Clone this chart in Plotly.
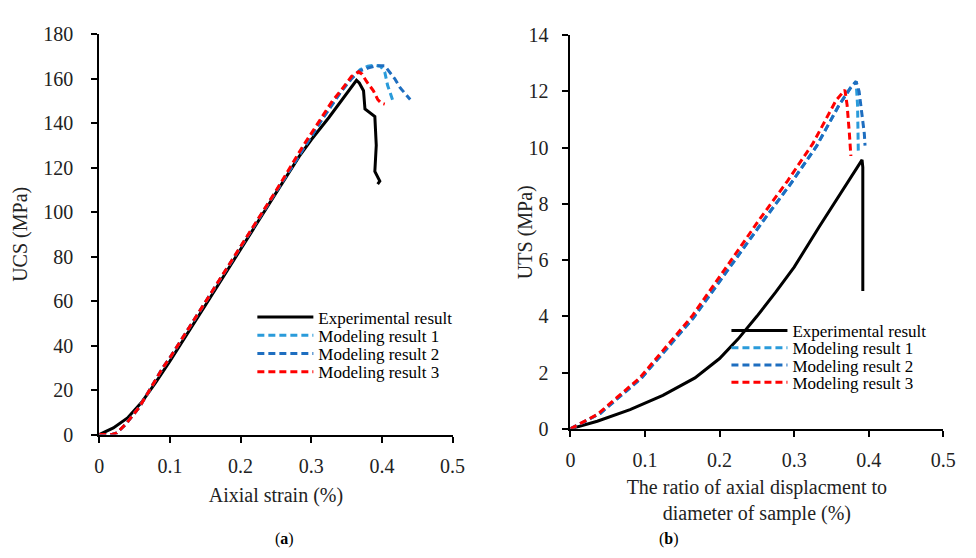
import plotly.graph_objects as go

# ---------- Data: panel (a) UCS vs axial strain ----------
a_exp_x = [0, 0.02, 0.04, 0.06, 0.08, 0.10, 0.15, 0.20, 0.25, 0.283, 0.30, 0.325, 0.345, 0.355,
           0.364, 0.368, 0.374, 0.376, 0.385, 0.390, 0.392, 0.390, 0.397, 0.394]
a_exp_y = [0, 3, 7.5, 14.5, 23.5, 33, 58, 83.5, 108.5, 125, 132.5, 142.5, 151, 155.5,
           159.2, 158, 154.5, 146.3, 144.2, 142.9, 130, 118.3, 113.9, 112.6]

a_m1_x = [0, 0.017, 0.025, 0.0375, 0.057, 0.072, 0.09, 0.10, 0.15, 0.20, 0.25, 0.288, 0.316,
          0.33, 0.343, 0.357, 0.369, 0.38, 0.39, 0.398, 0.404, 0.408, 0.415]
a_m1_y = [0, 0, 0.8, 4.7, 12.5, 20.7, 30, 34.5, 59.5, 84.5, 109.5, 128.5, 142,
          148.5, 154.5, 160, 164, 165.5, 166, 165.5, 163, 157, 150.5]

a_m2_x = [0, 0.017, 0.025, 0.0375, 0.057, 0.072, 0.09, 0.10, 0.15, 0.20, 0.25, 0.288, 0.316,
          0.33, 0.343, 0.357, 0.369, 0.381, 0.392, 0.404, 0.411, 0.418, 0.426, 0.433, 0.44]
a_m2_y = [0, 0, 0.8, 4.7, 12.5, 20.7, 30, 34.5, 59.5, 84.5, 109.5, 128.5, 142,
          148.5, 154.5, 160, 163.5, 164.8, 165.8, 165.7, 163, 160, 155.8, 153, 150.6]

a_m3_x = [0, 0.017, 0.025, 0.0375, 0.057, 0.072, 0.09, 0.10, 0.15, 0.20, 0.25, 0.288, 0.316,
          0.33, 0.343, 0.357, 0.367, 0.372, 0.378, 0.388, 0.394, 0.399, 0.404]
a_m3_y = [0, 0, 0.8, 4.7, 12.5, 20.7, 30, 34.5, 59.5, 84.5, 109.5, 129.5, 143.5,
          150, 155, 161, 163, 162, 158.8, 154.5, 150.6, 149, 148.5]

# ---------- Data: panel (b) UTS vs displacement ratio ----------
b_exp_x = [0, 0.036, 0.08, 0.124, 0.167, 0.20, 0.225, 0.25, 0.275, 0.30, 0.334, 0.356, 0.377,
           0.391, 0.392, 0.392]
b_exp_y = [0, 0.27, 0.68, 1.19, 1.81, 2.5, 3.2, 4.0, 4.85, 5.75, 7.2, 8.1, 8.95,
           9.56, 9.3, 4.9]

b_m1_x = [0, 0.04, 0.095, 0.165, 0.26, 0.295, 0.33, 0.36, 0.375, 0.383,
          0.385, 0.386, 0.386]
b_m1_y = [0, 0.55, 1.8, 3.95, 7.45, 8.7, 10.05, 11.5, 12.1, 12.35,
          11.5, 10.5, 9.8]

b_m2_x = [0, 0.04, 0.095, 0.165, 0.26, 0.295, 0.33, 0.36, 0.375, 0.383,
          0.387, 0.391, 0.394, 0.395]
b_m2_y = [0, 0.55, 1.8, 3.95, 7.45, 8.7, 10.05, 11.5, 12.1, 12.35,
          12.0, 11.2, 10.5, 10.07]

b_m3_x = [0, 0.036, 0.093, 0.163, 0.255, 0.291, 0.325, 0.356, 0.368,
          0.371, 0.374, 0.376]
b_m3_y = [0, 0.51, 1.81, 4.0, 7.5, 8.81, 10.14, 11.67, 12.05,
          11.5, 10.5, 9.7]

names = ["Experimental result", "Modeling result 1", "Modeling result 2", "Modeling result 3"]
colors = ["#000000", "#2A9BDA", "#1E6EC0", "#FF0000"]

FONT = "Liberation Serif, Times New Roman, serif"

fig = go.Figure()

def add(x, y, i, xa, ya, leg):
    fig.add_trace(go.Scatter(
        x=x, y=y, mode="lines", name=names[i], showlegend=True,
        line=dict(color=colors[i], width=3, dash="solid" if i == 0 else "7px,4px"),
        xaxis=xa, yaxis=ya, legend=leg))

add(a_exp_x, a_exp_y, 0, "x", "y", "legend")
add(a_m1_x, a_m1_y, 1, "x", "y", "legend2")
add(a_m2_x, a_m2_y, 2, "x", "y", "legend3")
add(a_m3_x, a_m3_y, 3, "x", "y", "legend4")

add(b_exp_x, b_exp_y, 0, "x2", "y2", "legend5")
add(b_m1_x, b_m1_y, 1, "x2", "y2", "legend6")
add(b_m2_x, b_m2_y, 2, "x2", "y2", "legend7")
add(b_m3_x, b_m3_y, 3, "x2", "y2", "legend8")

W, H = 976, 558
def px(x): return x / W
def py(y): return 1 - y / H

common = dict(showgrid=False, zeroline=False, showline=True, linecolor="black",
              linewidth=2, ticks="outside", ticklen=6, tickwidth=2, tickcolor="black",
              tickfont=dict(family=FONT, size=20, color="#222"), mirror=False)
xcommon = dict(common, ticklabelstandoff=6)
tfont = dict(family=FONT, size=20, color="#222")

def leg(x, y, size):
    return dict(x=px(x), y=py(y), xanchor="left", yanchor="middle", visible=True,
                font=dict(family=FONT, size=size, color="black"),
                bgcolor="rgba(0,0,0,0)", itemwidth=56, tracegroupgap=0)

layout = dict(
    width=W, height=H, margin=dict(l=0, r=0, t=0, b=0),
    showlegend=True,
    paper_bgcolor="white", plot_bgcolor="white",
    font=dict(family=FONT, color="#222"),
    xaxis=dict(domain=[px(96), px(456)], range=[0, 0.5], dtick=0.1, anchor="y",
               title=dict(text="Aixial strain (%)", font=tfont, standoff=12), **xcommon),
    yaxis=dict(domain=[py(441), py(24)], range=[0, 180], dtick=20, anchor="x",
               ticklabelstandoff=14,
               title=dict(text="UCS (MPa)", font=tfont, standoff=10), **common),
    xaxis2=dict(domain=[px(576), px(956)], range=[0, 0.5], dtick=0.1, anchor="y2",
                title=dict(text="The ratio of axial displacment to<br>diameter of sample (%)",
                           font=tfont, standoff=10), **xcommon),
    yaxis2=dict(domain=[py(435), py(25)], range=[0, 14], dtick=2, anchor="x2",
                ticklabelstandoff=10, **common),
    annotations=[
        dict(text="UTS (MPa)", x=px(531), y=py(230), xref="paper", yref="paper",
             textangle=-90, xanchor="center", yanchor="middle", showarrow=False, font=tfont),
        dict(text="(<b>a</b>)", x=px(273), y=py(550), xref="paper", yref="paper",
             yanchor="middle", showarrow=False, font=dict(family=FONT, size=16, color="black")),
        dict(text="(<b>b</b>)", x=px(689), y=py(550), xref="paper", yref="paper",
             yanchor="middle", showarrow=False, font=dict(family=FONT, size=16, color="black")),
    ],
)
a_leg_y = [319, 338, 357, 376]
b_leg_y = [333, 351, 369, 387]
for k, yy in enumerate(a_leg_y):
    layout["legend" if k == 0 else f"legend{k+1}"] = leg(252, yy, 17)
for k, yy in enumerate(b_leg_y):
    layout[f"legend{k+5}"] = leg(735, yy, 17)

fig.update_layout(**layout)
fig.write_html("out.html")
